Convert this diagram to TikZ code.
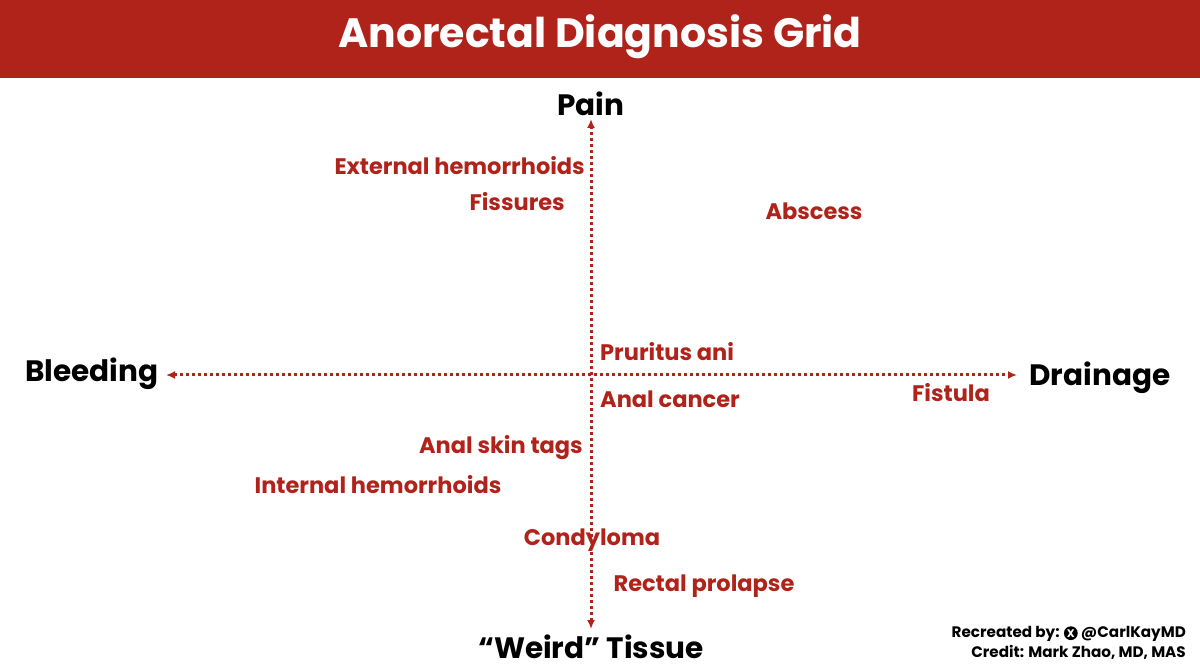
\documentclass[tikz,border=0pt]{standalone}
\usepackage{fontspec}
\setmainfont{Poppins}
\usetikzlibrary{arrows.meta}
\definecolor{gridred}{HTML}{B0231A}
\tikzset{
  axis/.style={gridred, line width=3pt, dash pattern=on 3pt off 3pt, {Latex[length=9pt,width=8pt]}-{Latex[length=9pt,width=8pt]}},
  axis label/.style={font=\fontsize{29.5}{34}\selectfont\bfseries, text=black},
  finding/.style={font=\fontsize{22.5}{26}\selectfont\bfseries, text=gridred, inner sep=0pt},
  credit/.style={font=\fontsize{15.2}{18}\selectfont\bfseries, text=black, inner sep=0pt, anchor=east}
}
\begin{document}
\begin{tikzpicture}[x=1pt, y=-1pt]
 \useasboundingbox (0,0) rectangle (1200,668);
 \fill[white] (0,0) rectangle (1200,668);
 \fill[gridred] (0,0) rectangle (1200,78);
 \node[font=\fontsize{41}{46}\selectfont\bfseries, text=white] (title) at (600,37) {Anorectal Diagnosis Grid};

 % axes
 \coordinate (top) at (591,119);
 \coordinate (bottom) at (591,629);
 \coordinate (left) at (166,375);
 \coordinate (right) at (1017,375);
 \draw[axis] (bottom) -- (top);
 \draw[axis] (left) -- (right);

 \node[axis label] (pain) at (591,104) {Pain};
 \node[axis label] (weird) at (591,647) {“Weird” Tissue};
 \node[axis label] (bleeding) at (92,374) {Bleeding};
 \node[axis label] (drainage) at (1100,378) {Drainage};

 % findings
 \node[finding, anchor=east] (ext) at (585,166) {External hemorrhoids};
 \node[finding, anchor=east] (fis) at (565,202) {Fissures};
 \node[finding] (abs) at (814,211) {Abscess};
 \node[finding, anchor=west] (pru) at (600,352) {Pruritus ani};
 \node[finding, anchor=west] (can) at (600,399) {Anal cancer};
 \node[finding] (fist) at (951,393) {Fistula};
 \node[finding, anchor=east] (tags) at (583,448) {Anal skin tags};
 \node[finding] (int) at (378,485) {Internal hemorrhoids};
 \node[finding] (con) at (592,540) {Condyloma};
 \node[finding] (pro) at (704,586) {Rectal prolapse};

 % credits
 \node[credit] (rec) at (1186,634) {Recreated by: \tikz[baseline=-4.5pt]\node[circle, fill=black, text=white, inner sep=1pt, font=\fontsize{11}{11}\selectfont\bfseries]{X}; @CarlKayMD};
 \node[credit] (cred) at (1186,652) {Credit: Mark Zhao, MD, MAS};
\end{tikzpicture}
\end{document}
